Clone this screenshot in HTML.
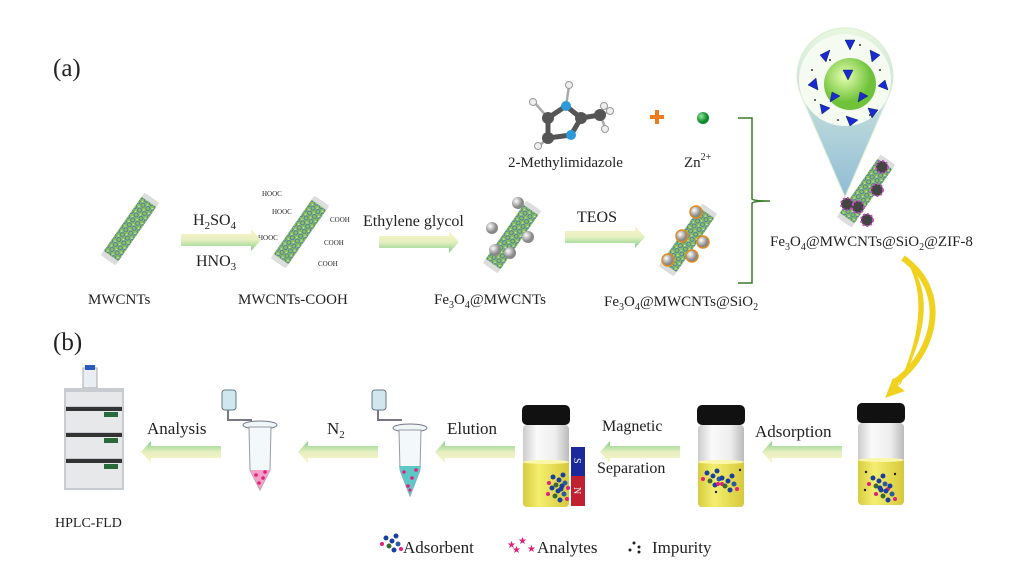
<!DOCTYPE html>
<html><head><meta charset="utf-8"><style>
html,body{margin:0;padding:0;background:#fff;width:1030px;height:574px;overflow:hidden}
svg{display:block}
text{font-family:"Liberation Serif",serif;fill:#222}
</style></head><body>
<svg width="1030" height="574" viewBox="0 0 1030 574" xmlns="http://www.w3.org/2000/svg">
<defs>
<linearGradient id="ar" x1="0" y1="0" x2="0" y2="1"><stop offset="0" stop-color="#fbf5c8"/><stop offset="0.5" stop-color="#e6efc0"/><stop offset="1" stop-color="#7fd08a"/></linearGradient>
<linearGradient id="al" x1="0" y1="0" x2="0" y2="1"><stop offset="0" stop-color="#7fd08a"/><stop offset="0.5" stop-color="#e6efc0"/><stop offset="1" stop-color="#fbf5c8"/></linearGradient>
<pattern id="tube" width="6" height="6" patternUnits="userSpaceOnUse"><rect width="6" height="6" fill="#8cbf5a"/><circle cx="3" cy="3" r="2" fill="none" stroke="#3a6fc0" stroke-width="0.8"/><circle cx="0" cy="0" r="1.2" fill="#eee"/></pattern>
<radialGradient id="ball" cx="0.35" cy="0.35"><stop offset="0" stop-color="#fff"/><stop offset="1" stop-color="#888"/></radialGradient>
<radialGradient id="gs" cx="0.4" cy="0.35"><stop offset="0" stop-color="#e6ffb0"/><stop offset="1" stop-color="#6fc23a"/></radialGradient>
<radialGradient id="zn" cx="0.35" cy="0.35"><stop offset="0" stop-color="#8fe89a"/><stop offset="1" stop-color="#0a8a2a"/></radialGradient>
<linearGradient id="cone" x1="0" y1="0" x2="0" y2="1"><stop offset="0" stop-color="#eaf7e0"/><stop offset="1" stop-color="#8fbcd6"/></linearGradient>
<linearGradient id="glass" x1="0" y1="0" x2="1" y2="0"><stop offset="0" stop-color="#ccc"/><stop offset="0.3" stop-color="#fafafa"/><stop offset="0.7" stop-color="#eee"/><stop offset="1" stop-color="#bbb"/></linearGradient>
<linearGradient id="liq" x1="0" y1="0" x2="1" y2="0"><stop offset="0" stop-color="#d8cc40"/><stop offset="0.35" stop-color="#f4ee70"/><stop offset="1" stop-color="#d6c93a"/></linearGradient>
<g id="tb"><rect x="-9" y="-38" width="18" height="76" rx="4" fill="url(#tube)"/><rect x="-9" y="-38" width="18" height="5" fill="#ddd"/><rect x="-9" y="33" width="18" height="5" fill="#ddd"/></g>
<g id="arrR"><polygon points="0,-6 70,-6 70,-11 80,0 70,11 70,6 0,6" fill="url(#ar)"/></g>
<g id="arrL"><polygon points="80,-6 10,-6 10,-11 0,0 10,11 10,6 80,6" fill="url(#al)"/></g>
<g id="vial"><rect x="0" y="0" width="48" height="20" rx="5" fill="#111"/><rect x="1" y="20" width="46" height="82" rx="4" fill="url(#glass)"/><rect x="1" y="56" width="46" height="46" rx="4" fill="url(#liq)"/><ellipse cx="24" cy="57" rx="23" ry="2" fill="#fbf7a8"/></g>
<g id="clus"><circle cx="0" cy="0" r="2.5" fill="#1a3fa0"/><circle cx="6" cy="3" r="2.5" fill="#1a3fa0"/><circle cx="3" cy="8" r="2.5" fill="#3a6a30"/><circle cx="10" cy="-2" r="2.5" fill="#1a3fa0"/><circle cx="12" cy="6" r="2.5" fill="#2a5aa0"/><circle cx="-4" cy="6" r="2" fill="#e0207a"/><circle cx="15" cy="11" r="2" fill="#e0207a"/><circle cx="8" cy="12" r="2.5" fill="#1a3fa0"/></g>
</defs>

<text x="53" y="76" font-size="25">(a)</text>
<text x="53" y="350" font-size="25">(b)</text>

<!-- tubes -->
<g transform="translate(130,229) rotate(35)"><use href="#tb"/></g>
<g transform="translate(300,232) rotate(35)"><use href="#tb"/></g>
<g font-size="7" fill="#333"><text x="262" y="196">HOOC</text><text x="272" y="214">HOOC</text><text x="258" y="240">HOOC</text><text x="330" y="222">COOH</text><text x="324" y="245">COOH</text><text x="318" y="266">COOH</text></g>
<g transform="translate(512,237) rotate(35)"><use href="#tb"/></g>
<g fill="url(#ball)"><circle cx="518" cy="203" r="6"/><circle cx="492" cy="228" r="6"/><circle cx="528" cy="237" r="6"/><circle cx="495" cy="250" r="6"/><circle cx="510" cy="253" r="6"/></g>
<g transform="translate(688,240) rotate(35)"><use href="#tb"/></g>
<g fill="url(#ball)" stroke="#e08a20" stroke-width="1.5"><circle cx="696" cy="212" r="6"/><circle cx="682" cy="236" r="6"/><circle cx="703" cy="242" r="6"/><circle cx="668" cy="260" r="6"/><circle cx="692" cy="256" r="6"/></g>
<g transform="translate(866,191) rotate(35)"><use href="#tb"/></g>
<g fill="#444" stroke="#c050c0" stroke-width="2" stroke-dasharray="2 2"><circle cx="882" cy="167" r="6"/><circle cx="877" cy="190" r="6"/><circle cx="858" cy="207" r="6"/><circle cx="847" cy="204" r="6"/><circle cx="867" cy="220" r="6"/></g>

<!-- arrows a -->
<use href="#arrR" x="181" y="240"/>
<use href="#arrR" x="379" y="242"/>
<use href="#arrR" x="565" y="237"/>
<g font-size="16"><text x="193" y="225">H<tspan font-size="11" dy="4">2</tspan><tspan dy="-4">SO</tspan><tspan font-size="11" dy="4">4</tspan></text>
<text x="196" y="266">HNO<tspan font-size="11" dy="4">3</tspan></text>
<text x="363" y="226">Ethylene glycol</text>
<text x="577" y="222">TEOS</text></g>

<g font-size="15"><text x="88" y="304">MWCNTs</text><text x="238" y="304">MWCNTs-COOH</text>
<text x="434" y="304">Fe<tspan font-size="10" dy="4">3</tspan><tspan dy="-4">O</tspan><tspan font-size="10" dy="4">4</tspan><tspan dy="-4">@MWCNTs</tspan></text>
<text x="604" y="306">Fe<tspan font-size="10" dy="4">3</tspan><tspan dy="-4">O</tspan><tspan font-size="10" dy="4">4</tspan><tspan dy="-4">@MWCNTs@SiO</tspan><tspan font-size="10" dy="4">2</tspan></text>
<text x="770" y="246">Fe<tspan font-size="10" dy="4">3</tspan><tspan dy="-4">O</tspan><tspan font-size="10" dy="4">4</tspan><tspan dy="-4">@MWCNTs@SiO</tspan><tspan font-size="10" dy="4">2</tspan><tspan dy="-4">@ZIF-8</tspan></text>
<text x="508" y="167">2-Methylimidazole</text>
<text x="684" y="167">Zn<tspan font-size="10" dy="-7">2+</tspan></text></g>

<!-- molecule -->
<g stroke="#555" stroke-width="5"><line x1="548" y1="118" x2="548" y2="138"/><line x1="548" y1="118" x2="566" y2="106"/><line x1="566" y1="106" x2="581" y2="118"/><line x1="581" y1="118" x2="571" y2="135"/><line x1="571" y1="135" x2="548" y2="138"/><line x1="581" y1="118" x2="600" y2="115"/></g>
<g stroke="#aaa" stroke-width="2.5"><line x1="548" y1="118" x2="535" y2="103"/><line x1="548" y1="138" x2="540" y2="145"/><line x1="566" y1="106" x2="569" y2="86"/><line x1="600" y1="115" x2="608" y2="112"/><line x1="600" y1="115" x2="605" y2="127"/></g>
<circle cx="548" cy="118" r="6" fill="#555"/><circle cx="548" cy="138" r="6" fill="#555"/><circle cx="566" cy="106" r="5" fill="#2a9ad8"/><circle cx="571" cy="135" r="5" fill="#2a9ad8"/><circle cx="581" cy="118" r="6" fill="#555"/><circle cx="600" cy="115" r="6" fill="#555"/>
<g fill="#eee" stroke="#999"><circle cx="533" cy="102" r="3.5"/><circle cx="538" cy="146" r="3.5"/><circle cx="569" cy="85" r="3.5"/><circle cx="610" cy="111" r="3.5"/><circle cx="605" cy="129" r="3.5"/><circle cx="604" cy="106" r="3.5"/></g>
<g fill="#f07a20"><rect x="650" y="115" width="14" height="4"/><rect x="655" y="110" width="4" height="14"/></g>
<circle cx="703" cy="118" r="6" fill="url(#zn)"/>
<path d="M738,118 H752 V199 Q754,201 770,201 Q754,201 752,203 V283 H738" fill="none" stroke="#3a7a2a" stroke-width="1.5"/>

<!-- pin -->
<path d="M801,95 A48,48 0 1 1 889,95 L845,197 Z" fill="url(#cone)" stroke="#dcefd0"/>
<circle cx="845" cy="80" r="46" fill="#f6fbf2"/>
<circle cx="850" cy="84" r="26" fill="url(#gs)"/>
<g fill="#1a2ad0" stroke="#0a2a5a" stroke-width="0.5">
<polygon points="820,55 830,50 826,62"/><polygon points="845,40 855,40 850,50"/><polygon points="870,50 880,55 872,62"/><polygon points="885,80 888,90 878,86"/><polygon points="878,110 872,118 868,108"/><polygon points="850,126 858,120 846,116"/><polygon points="822,114 830,108 820,104"/><polygon points="808,85 816,78 818,90"/><polygon points="843,70 853,70 848,80"/><polygon points="860,92 868,96 858,102"/><polygon points="832,92 840,96 830,102"/>
</g>
<g fill="#333"><circle cx="830" cy="60" r="1"/><circle cx="860" cy="45" r="1"/><circle cx="880" cy="70" r="1"/><circle cx="870" cy="115" r="1"/><circle cx="815" cy="100" r="1"/><circle cx="838" cy="120" r="1"/><circle cx="812" cy="70" r="1"/></g>

<!-- yellow curve -->
<path d="M905,258 Q945,300 900,385 L893,378 L885,398 L905,391 L898,386 Q935,305 905,258 Z" fill="#f0d21e"/>
<path d="M903,258 C955,295 930,360 893,383" fill="none" stroke="#f0d21e" stroke-width="6"/>

<!-- (b) HPLC -->
<rect x="83" y="368" width="14" height="20" fill="#e8eef4" stroke="#aaa"/><rect x="85" y="365" width="10" height="5" fill="#2a5ac0"/>
<rect x="64" y="388" width="60" height="102" fill="#c8ccd0"/>
<g fill="#e6e8ea"><rect x="66" y="392" width="56" height="14"/><rect x="66" y="410" width="56" height="22"/><rect x="66" y="436" width="56" height="22"/><rect x="66" y="462" width="56" height="26"/></g>
<g fill="#333"><rect x="66" y="407" width="56" height="4"/><rect x="66" y="433" width="56" height="4"/><rect x="66" y="459" width="56" height="4"/></g>
<g fill="#2a6a3a"><rect x="104" y="412" width="14" height="5"/><rect x="104" y="438" width="14" height="5"/><rect x="104" y="464" width="14" height="5"/></g>
<text x="55" y="527" font-size="14">HPLC-FLD</text>

<!-- arrows b -->
<use href="#arrL" x="141" y="452"/>
<use href="#arrL" x="298" y="452"/>
<use href="#arrL" x="435" y="452"/>
<use href="#arrL" x="600" y="452"/>
<use href="#arrL" x="762" y="452"/>
<g font-size="17"><text x="147" y="434">Analysis</text><text x="327" y="434">N<tspan font-size="11" dy="4">2</tspan></text><text x="447" y="434">Elution</text>
<text x="602" y="431" font-size="16">Magnetic</text><text x="597" y="473" font-size="16">Separation</text><text x="755" y="437">Adsorption</text></g>

<!-- tubes b -->
<rect x="222" y="390" width="14" height="20" rx="3" fill="#cfe8ee" stroke="#678"/>
<path d="M228,410 V420 H252" fill="none" stroke="#778" stroke-width="2"/>
<ellipse cx="260" cy="425" rx="17" ry="4" fill="#eef6f8" stroke="#778"/>
<path d="M249,427 L250,470 L260,490 L270,470 L271,427 Z" fill="#f3f8fa" stroke="#99a"/>
<path d="M250,470 L260,490 L270,470 Z" fill="#f5a0c8"/>
<g fill="#e0207a"><circle cx="256" cy="475" r="1.8"/><circle cx="263" cy="478" r="1.8"/><circle cx="259" cy="483" r="1.8"/><circle cx="265" cy="472" r="1.8"/></g>
<rect x="372" y="390" width="14" height="20" rx="3" fill="#cfe8ee" stroke="#678"/>
<path d="M378,410 V420 H402" fill="none" stroke="#778" stroke-width="2"/>
<ellipse cx="410" cy="428" rx="17" ry="4" fill="#eef6f8" stroke="#778"/>
<path d="M399,430 L400,470 L410,496 L420,470 L421,430 Z" fill="#f3f8fa" stroke="#99a"/>
<path d="M399,466 L421,466 L420,470 L410,496 L400,470 Z" fill="#5ec8c8"/>
<g fill="#e0207a"><circle cx="404" cy="472" r="1.8"/><circle cx="412" cy="478" r="1.8"/><circle cx="408" cy="486" r="1.8"/><circle cx="416" cy="470" r="1.8"/><circle cx="410" cy="490" r="1.5"/></g>

<!-- vials -->
<use href="#vial" x="522" y="405"/>
<rect x="571" y="447" width="14" height="29" fill="#1a2a9a"/><rect x="571" y="476" width="14" height="30" fill="#c02030"/>
<text transform="translate(574,458) rotate(90)" font-size="10" style="fill:#fff">S</text><text transform="translate(574,487) rotate(90)" font-size="10" style="fill:#fff">N</text>
<use href="#clus" x="553" y="477"/><use href="#clus" x="552" y="488"/>
<use href="#vial" x="697" y="405"/>
<use href="#clus" x="707" y="473"/><use href="#clus" x="722" y="478"/>
<use href="#vial" x="857" y="403"/>
<use href="#clus" x="873" y="478"/><use href="#clus" x="880" y="488"/>
<g fill="#222"><circle cx="866" cy="472" r="1.2"/><circle cx="895" cy="474" r="1.2"/><circle cx="865" cy="490" r="1.2"/><circle cx="740" cy="470" r="1.2"/><circle cx="716" cy="492" r="1.2"/></g>

<!-- legend -->
<use href="#clus" x="386" y="538"/>
<text x="403" y="553" font-size="17">Adsorbent</text>
<g font-size="10"><text x="507" y="548" style="fill:#e0207a">★</text><text x="518" y="544" style="fill:#e0207a">★</text><text x="512" y="553" style="fill:#e0207a">★</text><text x="527" y="552" style="fill:#e0207a">★</text></g>
<text x="537" y="553" font-size="17">Analytes</text>
<g fill="#222"><circle cx="630" cy="550" r="1.5"/><circle cx="634" cy="543" r="1.5"/><circle cx="639" cy="547" r="1.5"/><circle cx="639" cy="552" r="1.5"/></g>
<text x="652" y="553" font-size="17">Impurity</text>
</svg>
</body></html>
